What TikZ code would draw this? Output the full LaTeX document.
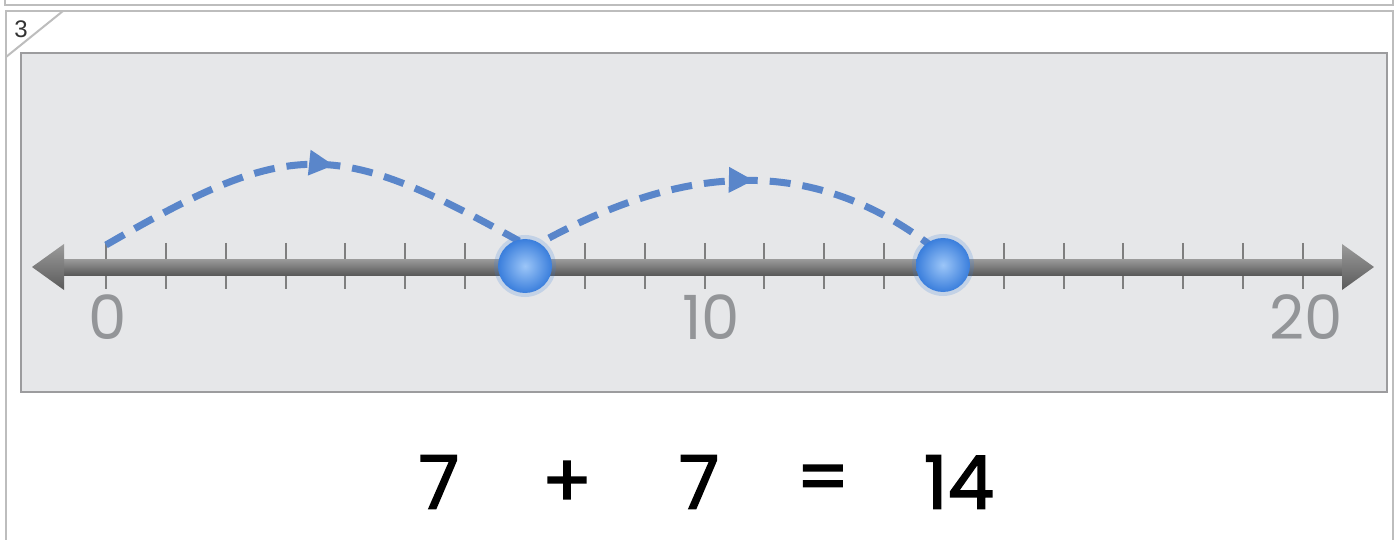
\documentclass[tikz,border=0pt]{standalone}
\usepackage{fontspec}
\setmainfont{Poppins}
\newfontfamily\smallfont{Liberation Sans}
\newfontfamily\eqfont[FakeBold=2]{Poppins}
\usetikzlibrary{arrows.meta,decorations.markings}
\definecolor{framegray}{HTML}{BDBDBD}
\definecolor{panelfill}{HTML}{E6E7E9}
\definecolor{panelborder}{HTML}{9C9C9E}
\definecolor{tickgray}{HTML}{7F7F7F}
\definecolor{labelgray}{HTML}{939598}
\definecolor{jumpblue}{HTML}{5A86CA}
\definecolor{barlight}{HTML}{9B9B9B}
\definecolor{bardark}{HTML}{5A5A5A}
\definecolor{dotin}{HTML}{9CC6F8}
\definecolor{dotout}{HTML}{3A7EDC}
\begin{document}
\begin{tikzpicture}[x=1pt,y=-1pt,
  frameline/.style={draw=framegray,line width=2pt},
  tickline/.style={draw=tickgray,line width=2pt},
  numlabel/.style={text=labelgray,font=\fontsize{61}{61}\selectfont,inner sep=0pt},
  eqlabel/.style={text=black,font=\eqfont\fontsize{74}{74}\selectfont,inner sep=0pt},
  jump/.style={draw=jumpblue,line width=7pt,dash pattern=on 21pt off 12pt},
  jumpmark/.style={postaction={decorate,decoration={markings,
      mark=at position #1 with {\arrow[jumpblue]{Triangle[length=25pt,width=24pt]}}}}},
  dotnode/.style={circle,minimum size=54pt,inner sep=0pt,shading=radial,inner color=dotin,outer color=dotout}
]
\useasboundingbox (0,0) rectangle (1395,540);
\fill[white] (0,0) rectangle (1395,540);
% frames
\draw[frameline] (5,-10) rectangle (1393,5);
\draw[frameline] (6,11) rectangle (1393,550);
\draw[frameline] (6,57) -- (63,11);
\node[text=black!80,font=\smallfont\fontsize{24}{24}\selectfont,inner sep=0pt] (num) at (21,29) {3};
% panel
\draw[draw=panelborder,fill=panelfill,line width=2.5pt] (21,53) rectangle (1387,392);
% ticks
\foreach \i in {0,...,20} {
  \draw[tickline] ({106+59.85*\i},243) -- ({106+59.85*\i},289);
}
% bar
\shade[top color=barlight,bottom color=bardark] (62,259) rectangle (1343,275);
\shade[top color=barlight,bottom color=bardark] (32,267) -- (64,244) -- (64,290) -- cycle;
\shade[top color=barlight,bottom color=bardark] (1374,267) -- (1342,244) -- (1342,290) -- cycle;
% labels
\node[numlabel] (l0) at (108,317) {0};
\node[numlabel] (l10) at (711,317) {10};
\node[numlabel] (l20) at (1306,317) {20};
% jump arcs
\coordinate (a0) at (106,245);
\coordinate (a1) at (519,241);
\coordinate (b0) at (549,238);
\coordinate (b1) at (930,245);
\draw[jump,jumpmark=0.55] (a0) .. controls (291,138) and (334,138) .. (a1);
\draw[jump,jumpmark=0.53] (b0) .. controls (695,160) and (817,160) .. (b1);
% dots
\fill[dotout,opacity=0.2] (525,266) circle (31);
\fill[dotout,opacity=0.2] (943,265) circle (31);
\node[dotnode] (d7) at (525,266) {};
\node[dotnode] (d14) at (943,265) {};
% equation
\node[eqlabel] (e1) at (439,482) {7};
\node[eqlabel] (e2) at (567,484) {+};
\node[eqlabel] (e3) at (699,482) {7};
\node[eqlabel] (e4) at (823,484) {=};
\node[eqlabel] (e5) at (959,482) {14};
\end{tikzpicture}
\end{document}
